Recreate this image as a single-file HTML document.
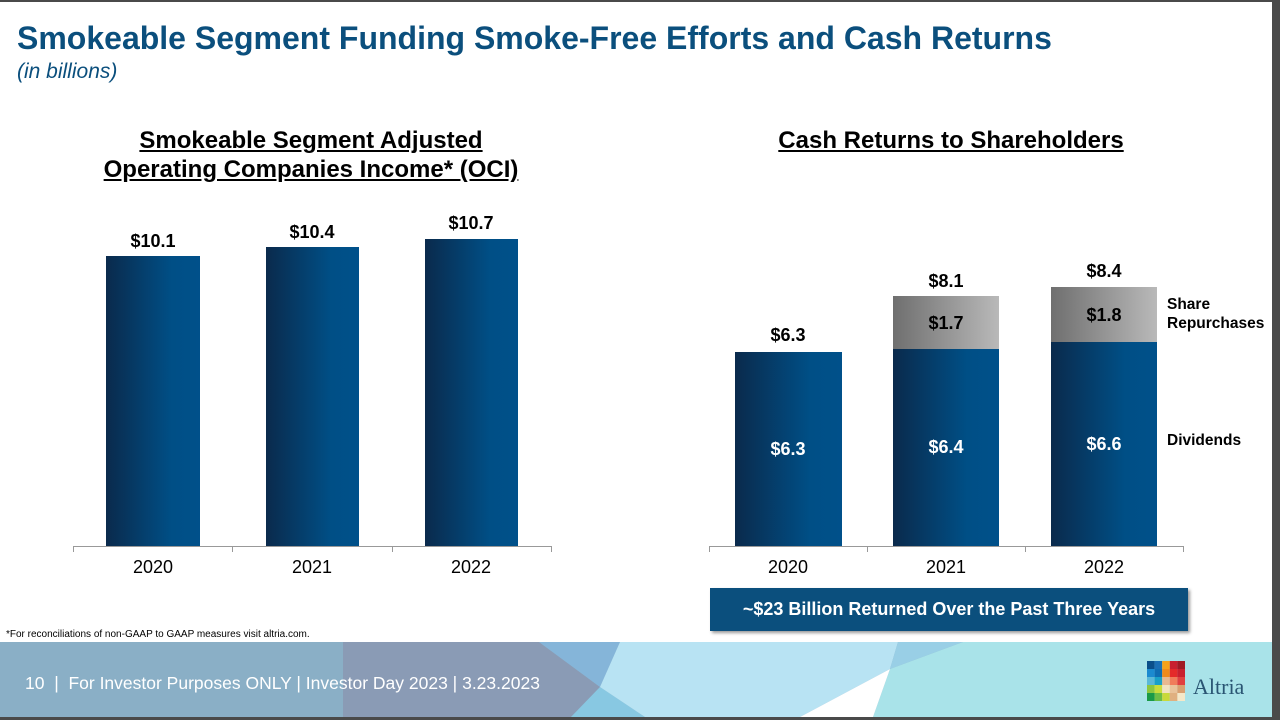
<!DOCTYPE html>
<html><head><meta charset="utf-8"><style>
*{margin:0;padding:0;box-sizing:border-box}
body{width:1280px;height:720px;background:#4a4a4a;position:relative;overflow:hidden;font-family:"Liberation Sans",Arial,sans-serif}
.slide{position:absolute;left:0;top:2px;width:1272px;height:715px;background:#fff;overflow:hidden}
.a{position:absolute;white-space:nowrap}
.c{transform:translateX(-50%);text-align:center}
.bar{position:absolute;background:linear-gradient(90deg,#0a2a4c,#004f86 70%,#00508a)}
.rep{position:absolute;background:linear-gradient(90deg,#6f6f6f,#b9b9b9);}
.lbl{font-weight:bold;font-size:18px;color:#000}
.in{font-weight:bold;font-size:18px;color:#fff}
.yr{font-size:18px;color:#000}
.h{font-weight:bold;font-size:24px;color:#000;text-decoration:underline;text-align:center;line-height:29px}
</style></head><body><div class="slide">
<div class="a" style="left:17px;top:18px;font-size:32px;font-weight:bold;color:#0b4f7d">Smokeable Segment Funding Smoke-Free Efforts and Cash Returns</div>
<div class="a" style="left:17px;top:58px;font-size:21px;font-style:italic;color:#0b4f7d">(in billions)</div>

<div class="a c h" style="left:311px;top:124px">Smokeable Segment Adjusted<br>Operating Companies Income* (OCI)</div>
<div class="a c h" style="left:951px;top:124px">Cash Returns to Shareholders</div>

<!-- left chart -->
<div class="bar" style="left:106px;top:254px;width:94px;height:290px"></div>
<div class="bar" style="left:266px;top:245px;width:93px;height:299px"></div>
<div class="bar" style="left:425px;top:237px;width:93px;height:307px"></div>
<div class="a" style="left:73px;top:544px;width:479px;height:1px;background:#999"></div>
<div class="a" style="left:73px;top:544px;width:1px;height:6px;background:#999"></div>
<div class="a" style="left:232px;top:544px;width:1px;height:6px;background:#999"></div>
<div class="a" style="left:392px;top:544px;width:1px;height:6px;background:#999"></div>
<div class="a" style="left:551px;top:544px;width:1px;height:6px;background:#999"></div>
<div class="a c lbl" style="left:153px;top:229px">$10.1</div>
<div class="a c lbl" style="left:312px;top:220px">$10.4</div>
<div class="a c lbl" style="left:471px;top:211px">$10.7</div>
<div class="a c yr" style="left:153px;top:555px">2020</div>
<div class="a c yr" style="left:312px;top:555px">2021</div>
<div class="a c yr" style="left:471px;top:555px">2022</div>

<!-- right chart -->
<div class="bar" style="left:735px;top:350px;width:107px;height:194px"></div>
<div class="bar" style="left:893px;top:347px;width:106px;height:197px"></div>
<div class="rep" style="left:893px;top:294px;width:106px;height:53px"></div>
<div class="bar" style="left:1051px;top:340px;width:106px;height:204px"></div>
<div class="rep" style="left:1051px;top:285px;width:106px;height:55px"></div>
<div class="a" style="left:709px;top:544px;width:475px;height:1px;background:#999"></div>
<div class="a" style="left:709px;top:544px;width:1px;height:6px;background:#999"></div>
<div class="a" style="left:867px;top:544px;width:1px;height:6px;background:#999"></div>
<div class="a" style="left:1025px;top:544px;width:1px;height:6px;background:#999"></div>
<div class="a" style="left:1183px;top:544px;width:1px;height:6px;background:#999"></div>
<div class="a c lbl" style="left:788px;top:323px">$6.3</div>
<div class="a c lbl" style="left:946px;top:269px">$8.1</div>
<div class="a c lbl" style="left:1104px;top:259px">$8.4</div>
<div class="a c in" style="left:788px;top:437px">$6.3</div>
<div class="a c in" style="left:946px;top:435px">$6.4</div>
<div class="a c in" style="left:1104px;top:432px">$6.6</div>
<div class="a c lbl" style="left:946px;top:311px">$1.7</div>
<div class="a c lbl" style="left:1104px;top:303px">$1.8</div>
<div class="a" style="left:1167px;top:293px;font-weight:bold;font-size:15.5px;line-height:19px">Share<br>Repurchases</div>
<div class="a" style="left:1167px;top:430px;font-weight:bold;font-size:15.5px">Dividends</div>
<div class="a c yr" style="left:788px;top:555px">2020</div>
<div class="a c yr" style="left:946px;top:555px">2021</div>
<div class="a c yr" style="left:1104px;top:555px">2022</div>
<div class="a" style="left:710px;top:586px;width:478px;height:43px;background:#0b4f7d;box-shadow:2px 2px 3px rgba(0,0,0,.4);color:#fff;font-weight:bold;font-size:18px;text-align:center;line-height:43px">~$23 Billion Returned Over the Past Three Years</div>

<div class="a" style="left:6px;top:627px;font-size:10px;color:#000">*For reconciliations of non-GAAP to GAAP measures visit altria.com.</div>

<!-- footer -->
<svg class="a" style="left:0;top:640px" width="1272" height="75" viewBox="0 0 1272 75">
<rect width="1272" height="75" fill="#8aafc6"/>
<polygon points="343,0 539,0 600,45 571,75 343,75" fill="#8a9bb5"/>
<polygon points="539,0 620,0 600,45" fill="#85b5d9"/>
<polygon points="600,45 571,75 645,75" fill="#88c8e2"/>
<polygon points="620,0 898,0 890,27 800,75 645,75 600,45" fill="#b8e3f3"/>
<polygon points="898,0 963,0 890,27" fill="#99cfe6"/>
<polygon points="963,0 1272,0 1272,75 873,75 890,27" fill="#a9e3e9"/>
<polygon points="890,27 800,75 873,75" fill="#ffffff"/>
</svg>
<div class="a" style="left:25px;top:671px;font-size:17.5px;color:#fff">10 &nbsp;| &nbsp;For Investor Purposes ONLY | Investor Day 2023 | 3.23.2023</div>
<svg class="a" style="left:1147px;top:659px" width="38" height="40" viewBox="0 0 5 5" preserveAspectRatio="none">
<rect x="0" y="0" width="1" height="1" fill="#0a4f8a"/><rect x="1" y="0" width="1" height="1" fill="#1a6fb5"/><rect x="2" y="0" width="1" height="1" fill="#f5a21b"/><rect x="3" y="0" width="1" height="1" fill="#c8202f"/><rect x="4" y="0" width="1" height="1" fill="#a01a24"/>
<rect x="0" y="1" width="1" height="1" fill="#1b8ad0"/><rect x="1" y="1" width="1" height="1" fill="#0f6db3"/><rect x="2" y="1" width="1" height="1" fill="#f08a1c"/><rect x="3" y="1" width="1" height="1" fill="#e42a2a"/><rect x="4" y="1" width="1" height="1" fill="#c8202f"/>
<rect x="0" y="2" width="1" height="1" fill="#5ab8d8"/><rect x="1" y="2" width="1" height="1" fill="#19a0c8"/><rect x="2" y="2" width="1" height="1" fill="#e9b890"/><rect x="3" y="2" width="1" height="1" fill="#f07c5a"/><rect x="4" y="2" width="1" height="1" fill="#e04040"/>
<rect x="0" y="3" width="1" height="1" fill="#8cc63f"/><rect x="1" y="3" width="1" height="1" fill="#c9dc3a"/><rect x="2" y="3" width="1" height="1" fill="#f2e2c0"/><rect x="3" y="3" width="1" height="1" fill="#e9c39a"/><rect x="4" y="3" width="1" height="1" fill="#d9a070"/>
<rect x="0" y="4" width="1" height="1" fill="#1a9a48"/><rect x="1" y="4" width="1" height="1" fill="#6cbd45"/><rect x="2" y="4" width="1" height="1" fill="#c9d93a"/><rect x="3" y="4" width="1" height="1" fill="#e0b080"/><rect x="4" y="4" width="1" height="1" fill="#f5e8c8"/>
</svg>
<div class="a" style="left:1193px;top:672px;font-family:'Liberation Serif',serif;font-size:22px;color:#2a5573">Altria</div>
</div></body></html>
